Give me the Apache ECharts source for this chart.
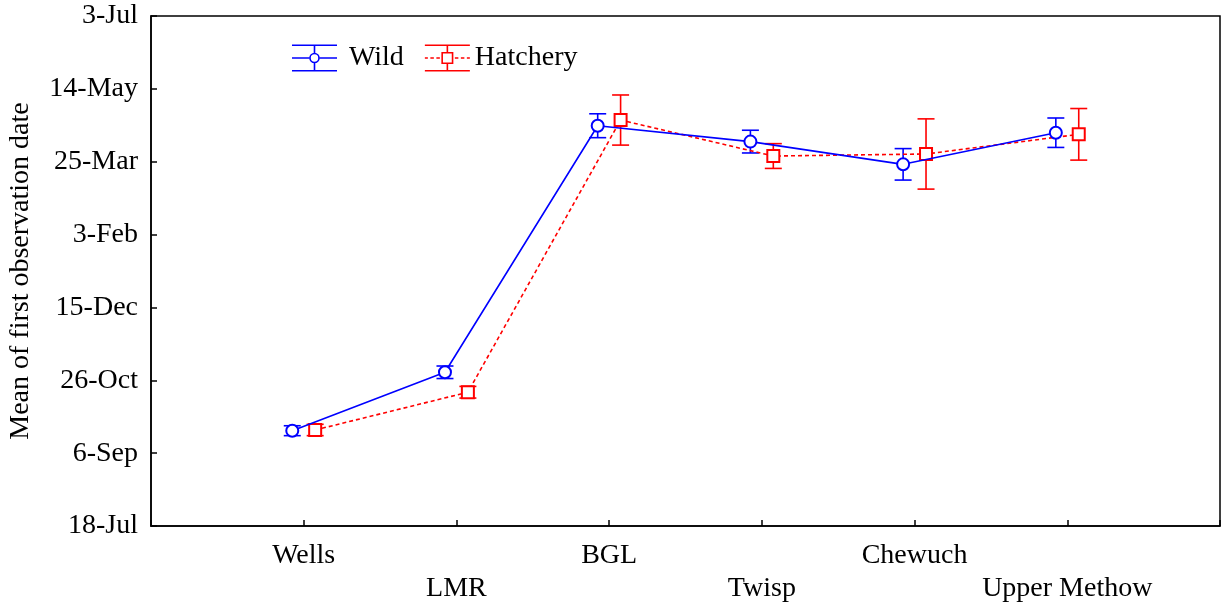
<!DOCTYPE html>
<html>
<head>
<meta charset="utf-8">
<script src="https://cdn.jsdelivr.net/npm/echarts@6/dist/echarts.min.js"></script>
<style>
  html, body { margin: 0; padding: 0; background: #fff; }
  #main { width: 1225px; height: 604px; }
</style>
</head>
<body>
<div id="main"></div>
<script>
// sites along the x axis
var categories = ['Wells', 'LMR', 'BGL', 'Twisp', 'Chewuch', 'Upper Methow'];
// y axis: days after 18-Jul, one tick every 50 days
var yTickLabels = ['18-Jul', '6-Sep', '26-Oct', '15-Dec', '3-Feb', '25-Mar', '14-May', '3-Jul'];

// mean first observation date (days after 18-Jul) and error half-width
var wildMean = [65.4, 105.5, 274.7, 263.8, 248.2, 269.9];
var wildErr = [3.4, 4.3, 8.2, 7.8, 10.8, 10.1];
var hatchMean = [65.9, 91.8, 278.6, 253.9, 255.3, 268.8];
var hatchErr = [3.9, 4.0, 17.2, 8.5, 24.1, 17.7];

var font = 'Liberation Serif';
var blue = '#0000ff';
var red = '#ff0000';
var shift = 0.075; // horizontal dodge of the two groups

function points(means, dx) {
    return means.map(function (v, i) { return [i + 1 + dx, v]; });
}
function bars(means, errs, dx) {
    return means.map(function (v, i) { return [i + 1 + dx, v - errs[i], v + errs[i]]; });
}

function errorBarRender(color) {
    return function (params, api) {
        var x = api.value(0);
        var lo = api.coord([x, api.value(1)]);
        var hi = api.coord([x, api.value(2)]);
        var w = 8.5;
        var style = { stroke: color, lineWidth: 1.6 };
        return {
            type: 'group',
            children: [
                { type: 'line', shape: { x1: hi[0], y1: hi[1], x2: lo[0], y2: lo[1] }, style: style },
                { type: 'line', shape: { x1: hi[0] - w, y1: hi[1], x2: hi[0] + w, y2: hi[1] }, style: style },
                { type: 'line', shape: { x1: lo[0] - w, y1: lo[1], x2: lo[0] + w, y2: lo[1] }, style: style }
            ]
        };
    };
}

// legend glyphs: error bar with marker
var wildIcon = 'path://M0 0H45V1.6H0Z M0 25.4H45V27H0Z M0 12.7H17.2V14.3H0Z M27.8 12.7H45V14.3H27.8Z ' +
    'M21.7 1.6H23.3V8.4H21.7Z M21.7 18.6H23.3V25.4H21.7Z ' +
    'M17.2 13.5A5.3 5.3 0 1 1 27.8 13.5A5.3 5.3 0 1 1 17.2 13.5Z ' +
    'M18.8 13.5A3.7 3.7 0 1 0 26.2 13.5A3.7 3.7 0 1 0 18.8 13.5Z';
var hatchIcon = 'path://M0 0H45V1.6H0Z M0 25.4H45V27H0Z ' +
    'M0 12.7H3V14.3H0Z M5.5 12.7H9V14.3H5.5Z M11.5 12.7H15V14.3H11.5Z ' +
    'M30 12.7H33.5V14.3H30Z M36 12.7H39.5V14.3H36Z M42 12.7H45V14.3H42Z ' +
    'M21.7 1.6H23.3V7.5H21.7Z M21.7 19.5H23.3V25.4H21.7Z ' +
    'M16.5 7.5H28.5V9.1H16.5Z M16.5 17.9H28.5V19.5H16.5Z M16.5 9.1H18.1V17.9H16.5Z M26.9 9.1H28.5V17.9H26.9Z';

var chart = echarts.init(document.getElementById('main'));
var option = {
    animation: false,
    backgroundColor: '#fff',
    textStyle: { fontFamily: font, color: '#000' },
    grid: {
        left: 151, right: 5, top: 16, bottom: 78,
        outerBoundsMode: 'none',
        containLabel: false,
        show: true, borderColor: '#000', borderWidth: 1.5
    },
    legend: {
        left: 287,
        top: 39,
        itemWidth: 45,
        itemHeight: 27,
        itemGap: 21,
        itemStyle: { borderWidth: 0 },
        textStyle: { fontFamily: font, fontSize: 28, color: '#000' },
        data: [
            { name: 'Wild', icon: wildIcon, itemStyle: { color: blue },
              textStyle: { padding: [0, 0, 0, 7] } },
            { name: 'Hatchery', icon: hatchIcon, itemStyle: { color: red } }
        ]
    },
    xAxis: {
        type: 'value',
        min: 0,
        max: 7,
        interval: 1,
        splitLine: { show: false },
        axisLine: { show: true, lineStyle: { color: '#000', width: 1.5 } },
        axisTick: { show: true, inside: true, length: 6, lineStyle: { color: '#000', width: 1.5 } },
        axisLabel: {
            fontFamily: font,
            fontSize: 28,
            color: '#000',
            margin: 13,
            lineHeight: 33,
            showMinLabel: true,
            showMaxLabel: true,
            formatter: function (v) {
                var i = Math.round(v) - 1;
                if (i < 0 || i >= categories.length) return '';
                return i % 2 ? '\n' + categories[i] : categories[i];
            }
        }
    },
    yAxis: {
        type: 'value',
        min: 0,
        max: 350,
        interval: 50,
        name: 'Mean of first observation date',
        nameLocation: 'middle',
        nameGap: 116,
        nameTextStyle: { fontFamily: font, fontSize: 28, color: '#000' },
        splitLine: { show: false },
        axisLine: { show: true, lineStyle: { color: '#000', width: 1.5 } },
        axisTick: { show: true, inside: true, length: 6, lineStyle: { color: '#000', width: 1.5 } },
        axisLabel: {
            fontFamily: font,
            fontSize: 28,
            color: '#000',
            margin: 13,
            formatter: function (v) { return yTickLabels[Math.round(v / 50)]; }
        }
    },
    series: [
        {
            name: 'Wild',
            type: 'custom',
            renderItem: errorBarRender(blue),
            itemStyle: { color: blue },
            data: bars(wildMean, wildErr, -shift),
            z: 1
        },
        {
            name: 'Hatchery',
            type: 'custom',
            renderItem: errorBarRender(red),
            itemStyle: { color: red },
            data: bars(hatchMean, hatchErr, shift),
            z: 1
        },
        {
            name: 'Wild',
            type: 'line',
            data: points(wildMean, -shift),
            symbol: 'emptyCircle',
            symbolSize: 12,
            lineStyle: { color: blue, width: 1.6 },
            itemStyle: { color: blue, borderWidth: 1.6 },
            z: 3
        },
        {
            name: 'Hatchery',
            type: 'line',
            data: points(hatchMean, shift),
            symbol: 'emptyRect',
            symbolSize: 12,
            lineStyle: { color: red, width: 1.6, type: [4, 3] },
            itemStyle: { color: red, borderWidth: 1.6 },
            z: 2
        }
    ]
};
chart.setOption(option);
</script>
</body>
</html>
